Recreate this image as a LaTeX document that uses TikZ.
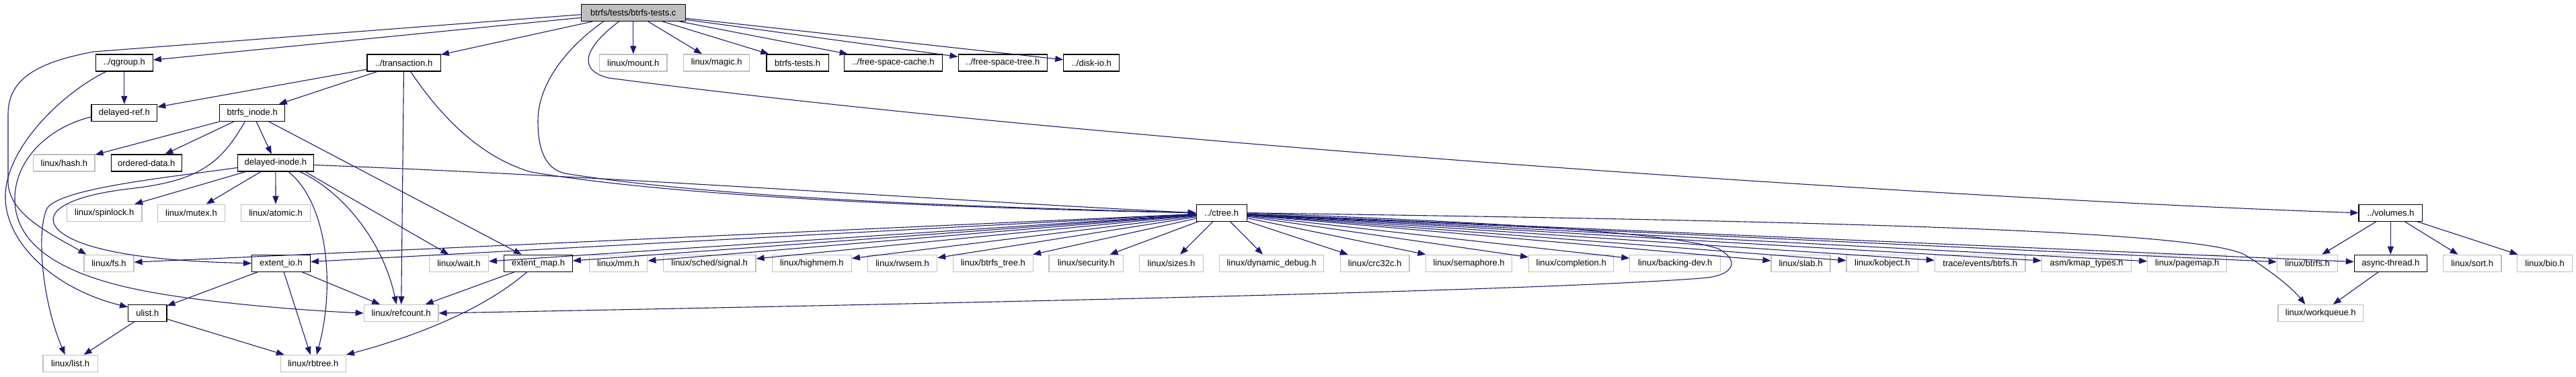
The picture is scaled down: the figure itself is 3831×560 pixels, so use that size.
\documentclass[tikz,border=0pt]{standalone}
\usepackage{fontspec}
\setmainfont{Liberation Sans}
\usetikzlibrary{arrows.meta}
\definecolor{edgecol}{HTML}{191970}
\definecolor{graybd}{HTML}{BFBFBF}
\begin{document}
\begin{tikzpicture}[x=1pt,y=-1pt,
  box/.style={rectangle, minimum height=25pt, inner sep=0pt, font=\fontsize{13pt}{15pt}\selectfont, line width=1.2pt, fill=white},
  doc/.style={box, draw=black},
  ext/.style={box, draw=graybd},
  rootbox/.style={box, draw=black, fill=graybd},
  edge/.style={draw=edgecol, line width=1.1pt, -{Triangle[length=12pt,width=9pt]}}
]
\useasboundingbox (0,0) rectangle (3831,560);
% row 0
\node[rootbox, minimum width=155pt] (root) at (941.8,18.7) {btrfs/tests/btrfs-tests.c};
% row 1
\node[doc, minimum width=85pt] (qgroup) at (184.8,93.4) {../qgroup.h};
\node[doc, minimum width=109.4pt] (trans) at (600.6,93.4) {../transaction.h};
\node[ext, minimum width=100.2pt] (mount) at (941.8,93.4) {linux/mount.h};
\node[ext, minimum width=98pt] (magic) at (1065.7,93.4) {linux/magic.h};
\node[doc, minimum width=92.2pt] (btests) at (1186.1,93.4) {btrfs-tests.h};
\node[doc, minimum width=145.5pt] (fscache) at (1328.5,93.4) {../free-space-cache.h};
\node[doc, minimum width=132.2pt] (fstree) at (1491.3,93.4) {../free-space-tree.h};
\node[doc, minimum width=82.9pt] (diskio) at (1623.3,93.4) {../disk-io.h};
% row 2
\node[doc, minimum width=97.7pt] (dref) at (184.8,168) {delayed-ref.h};
\node[doc, minimum width=97.2pt] (binode) at (375.2,168) {btrfs\_inode.h};
% row 3
\node[ext, minimum width=91.3pt] (hash) at (95.4,242.5) {linux/hash.h};
\node[doc, minimum width=104.8pt] (odata) at (217.8,242.5) {ordered-data.h};
\node[doc, minimum width=112.8pt] (dinode) at (409.9,242.5) {delayed-inode.h};
% row 4
\node[ext, minimum width=111.2pt] (spin) at (155.3,316.8) {linux/spinlock.h};
\node[ext, minimum width=100.2pt] (mutex) at (284.5,316.8) {linux/mutex.h};
\node[ext, minimum width=102.7pt] (atomic) at (410,316.8) {linux/atomic.h};
\node[doc, minimum width=74.9pt] (ctree) at (1816.7,316.8) {../ctree.h};
\node[doc, minimum width=94.7pt] (volumes) at (3555.3,316.8) {../volumes.h};
% row 5
\node[ext, minimum width=74pt] (fs) at (162,391.8) {linux/fs.h};
\node[doc, minimum width=86.7pt] (eio) at (418,391.8) {extent\_io.h};
\node[ext, minimum width=87.8pt] (wait) at (682.4,391.8) {linux/wait.h};
\node[doc, minimum width=101.5pt] (emap) at (800.6,391.8) {extent\_map.h};
\node[ext, minimum width=86.7pt] (mm) at (919.5,391.8) {linux/mm.h};
\node[ext, minimum width=137.6pt] (signal) at (1055.2,391.8) {linux/sched/signal.h};
\node[ext, minimum width=117.9pt] (highmem) at (1207.4,391.8) {linux/highmem.h};
\node[ext, minimum width=103.1pt] (rwsem) at (1342,391.8) {linux/rwsem.h};
\node[ext, minimum width=119.1pt] (btree) at (1476.8,391.8) {linux/btrfs\_tree.h};
\node[ext, minimum width=110.7pt] (security) at (1615.3,391.8) {linux/security.h};
\node[ext, minimum width=94.7pt] (sizes) at (1742,391.8) {linux/sizes.h};
\node[ext, minimum width=154.7pt] (ddebug) at (1891,391.8) {linux/dynamic\_debug.h};
\node[ext, minimum width=102.7pt] (crc) at (2044.6,391.8) {linux/crc32c.h};
\node[ext, minimum width=127.5pt] (sema) at (2184.6,391.8) {linux/semaphore.h};
\node[ext, minimum width=126.3pt] (compl) at (2336.7,391.8) {linux/completion.h};
\node[ext, minimum width=134.7pt] (bdev) at (2491.2,391.8) {linux/backing-dev.h};
\node[ext, minimum width=87.9pt] (slab) at (2678,391.8) {linux/slab.h};
\node[ext, minimum width=106.5pt] (kobj) at (2799.3,391.8) {linux/kobject.h};
\node[ext, minimum width=134.7pt] (trace) at (2944.7,391.8) {trace/events/btrfs.h};
\node[ext, minimum width=133.4pt] (kmap) at (3103.1,391.8) {asm/kmap\_types.h};
\node[ext, minimum width=117.9pt] (pagemap) at (3252.7,391.8) {linux/pagemap.h};
\node[ext, minimum width=90.5pt] (lbtrfs) at (3431.6,391.8) {linux/btrfs.h};
\node[doc, minimum width=107.9pt] (async) at (3555.3,391.8) {async-thread.h};
\node[ext, minimum width=86.7pt] (sort) at (3676.7,391.8) {linux/sort.h};
\node[ext, minimum width=81.8pt] (bio) at (3784.6,391.8) {linux/bio.h};
% row 6
\node[doc, minimum width=57.2pt] (ulist) at (219.3,466) {ulist.h};
\node[ext, minimum width=110.7pt] (rc) at (596.6,466) {linux/refcount.h};
\node[ext, minimum width=126.6pt] (wq) at (3451.3,466) {linux/workqueue.h};
% row 7
\node[ext, minimum width=81.2pt] (list) at (104.6,541) {linux/list.h};
\node[ext, minimum width=96.8pt] (rbtree) at (465.9,541) {linux/rbtree.h};

% ---- edges from root
\draw[edge] (root) -- (qgroup);
\draw[edge] ([yshift=-3pt]root.west) -- (139,77) .. controls (60,92) and (12,115) .. (12,170) -- (12,270) .. controls (12,320) and (80,350) .. ([xshift=4pt]fs.north west);
\draw[edge] (root) -- (trans);
\draw[edge] ([xshift=-44pt]root.south) .. controls (850,65) and (800,120) .. (800,180) .. controls (800,230) and (815,252) .. (840,258) .. controls (1100,300) and (1550,310) .. (ctree.west);
\draw[edge] ([xshift=-21pt]root.south) .. controls (880,62) and (850,102) .. (905,116) .. controls (1700,220) and (3000,300) .. (volumes.west);
\draw[edge] (root) -- (mount);
\draw[edge] (root) -- (magic);
\draw[edge] (root) -- (btests);
\draw[edge] (root) -- (fscache);
\draw[edge] (root) -- (fstree);
\draw[edge] (root) -- (diskio);
% ---- qgroup
\draw[edge] (qgroup) -- (dref);
\draw[edge] ([xshift=-27pt]qgroup.south) .. controls (90,140) and (10,220) .. (8,290) .. controls (6,360) and (80,430) .. ([yshift=-4pt]ulist.north west);
% ---- transaction
\draw[edge] (trans) -- (dref);
\draw[edge] (trans) -- (binode);
\draw[edge] (trans) -- (rc);
\draw[edge] ([xshift=10pt]trans.south) .. controls (640,150) and (700,230) .. (790,256) .. controls (1050,300) and (1550,312) .. (ctree.west);
% ---- delayed-ref
\draw[edge] ([yshift=-6pt]dref.west) .. controls (70,190) and (20,240) .. (22,300) .. controls (25,370) and (100,410) .. (210,432) .. controls (300,450) and (450,462) .. (rc.west);
% ---- btrfs_inode
\draw[edge] (binode) -- (hash);
\draw[edge] (binode) -- (odata);
\draw[edge] (binode) -- (dinode);
\draw[edge] (binode) -- (emap);
\draw[edge] ([xshift=-11pt]binode.south) .. controls (330,240) and (300,268) .. (200,280) .. controls (90,292) and (60,320) .. (90,345) .. controls (140,385) and (300,390) .. (eio.west);
% ---- delayed-inode
\draw[edge] (dinode) -- (spin);
\draw[edge] (dinode) -- (mutex);
\draw[edge] (dinode) -- (atomic);
\draw[edge] ([yshift=-7pt]dinode.west) .. controls (250,264) and (90,280) .. (70,310) .. controls (55,340) and (60,440) .. ([xshift=-8pt]list.north);
\draw[edge] ([xshift=19pt]dinode.south) .. controls (485,300) and (500,420) .. ([xshift=5pt]rbtree.north);
\draw[edge] ([xshift=36pt]dinode.south) .. controls (510,285) and (570,360) .. ([xshift=-7pt]rc.north);
\draw[edge] ([xshift=44pt]dinode.south) -- ([xshift=-15pt]wait.north);
\draw[edge] ([yshift=-3pt]dinode.east) .. controls (900,262) and (1400,298) .. (ctree.west);
% ---- extent_io, ulist, extent_map
\draw[edge] (eio) -- (ulist);
\draw[edge] (eio) -- (rbtree);
\draw[edge] (eio) -- (rc);
\draw[edge] (ulist) -- (list);
\draw[edge] (ulist) -- (rbtree);
\draw[edge] (emap) -- (rc);
\draw[edge] ([xshift=-17pt]emap.south) .. controls (720,460) and (620,500) .. (rbtree.north east);
% ---- ctree fan
\foreach \t in {fs,eio,wait,emap,mm,signal,highmem,rwsem,btree,security,sizes,ddebug,crc,sema,compl,bdev,slab,kobj,trace,kmap,pagemap,lbtrfs,async}
  \draw[edge] (ctree) -- (\t);
\draw[edge] (ctree.east) .. controls (2200,330) and (2480,345) .. (2555,370) .. controls (2585,385) and (2585,410) .. (2530,414) .. controls (2300,432) and (1500,450) .. (rc.east);
\draw[edge] (ctree.east) .. controls (2800,330) and (3280,345) .. (3340,380) .. controls (3380,405) and (3410,430) .. ([xshift=-23pt]wq.north);
% ---- volumes, async-thread
\draw[edge] (volumes) -- (lbtrfs);
\draw[edge] (volumes) -- (async);
\draw[edge] (volumes) -- (sort);
\draw[edge] (volumes) -- (bio);
\draw[edge] (async) -- (wq);
\end{tikzpicture}
\end{document}
